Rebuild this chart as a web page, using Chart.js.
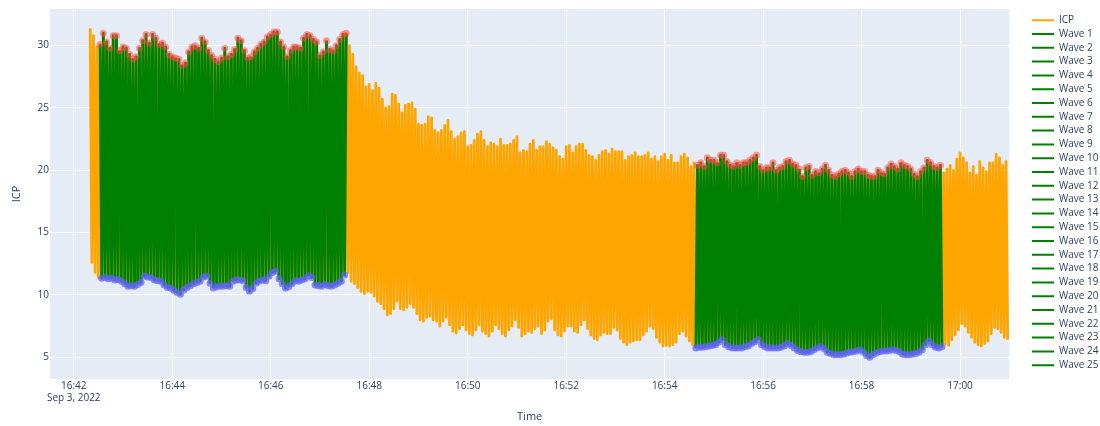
<!DOCTYPE html>
<html lang="en">
  <head>
    <meta charset="UTF-8" />
    <title>ICP</title>
    <script src="https://cdn.jsdelivr.net/npm/chart.js"></script>
    <style>
      html,
      body {
        margin: 0;
        padding: 0;
        background: #fff;
      }
    </style>
  </head>
  <body>
    <canvas id="chart-area" width="1100" height="426"></canvas>

    <script>
      // recording of Sep 3, 2022 - one beat every 4 s from 16:42:20
      const recordDate = "Sep 3, 2022";
      const firstBeat = "16:42:20";
      const beatSeconds = 4;

      // peak value of each beat
      const icpPeaks = [
        31.4, 30.8, 29.9, 30.1, 31.0, 30.3, 29.8, 30.8, 30.8, 29.6,
        29.9, 29.8, 29.3, 28.9, 29.1, 29.8, 30.4, 30.9, 30.2, 30.9,
        30.6, 30.1, 30.2, 29.9, 29.3, 29.1, 29.0, 28.9, 28.4, 28.6,
        29.5, 29.9, 30.0, 29.8, 30.6, 30.3, 29.6, 29.2, 28.9, 28.7,
        29.0, 29.8, 29.1, 29.3, 29.7, 30.6, 30.4, 29.6, 29.0, 29.1,
        29.5, 29.8, 30.1, 30.3, 30.7, 30.9, 31.1, 31.1, 30.3, 29.9,
        29.1, 29.6, 29.9, 29.9, 29.8, 30.6, 30.9, 30.8, 30.5, 30.3,
        29.2, 29.5, 30.4, 29.7, 29.6, 30.0, 30.5, 30.9, 31.0, 30.0,
        29.3, 28.3, 27.8, 27.6, 26.7, 26.9, 26.4, 27.0, 26.6, 25.7,
        25.0, 25.1, 26.1, 26.0, 25.3, 24.6, 25.2, 25.3, 25.4, 24.9,
        23.7, 23.6, 23.7, 24.3, 24.2, 23.2, 23.0, 23.2, 23.6, 24.0,
        23.1, 22.5, 22.7, 23.0, 23.1, 21.9, 22.0, 22.4, 22.9, 23.1,
        22.4, 21.9, 22.2, 22.1, 21.9, 22.5, 22.0, 22.0, 22.1, 22.4,
        22.7, 21.4, 21.6, 21.5, 22.1, 22.4, 21.6, 21.9, 21.9, 22.3,
        22.1, 21.8, 21.6, 21.1, 20.9, 21.9, 22.0, 21.4, 21.9, 22.1,
        22.1, 21.6, 21.2, 21.1, 20.8, 21.2, 21.5, 21.6, 21.3, 21.7,
        21.5, 21.5, 21.5, 20.8, 21.1, 21.2, 21.4, 21.1, 21.1, 21.2,
        21.4, 20.9, 21.1, 20.7, 21.1, 21.3, 20.8, 21.2, 20.6, 20.6,
        21.1, 21.3, 21.0, 20.3, 20.6, 20.4, 20.6, 20.3, 21.0, 20.8,
        20.8, 20.6, 21.2, 21.2, 20.7, 20.4, 20.3, 20.6, 20.4, 20.6,
        20.6, 20.8, 21.0, 21.2, 20.3, 20.0, 20.2, 20.2, 20.6, 20.0,
        20.2, 20.3, 20.7, 20.8, 20.5, 20.4, 20.1, 19.5, 20.2, 20.3,
        19.6, 19.9, 19.8, 20.1, 20.4, 20.0, 19.6, 19.5, 19.7, 19.9,
        20.0, 19.8, 19.5, 19.9, 20.1, 19.9, 19.9, 19.6, 19.5, 19.5,
        20.0, 19.8, 19.7, 20.2, 20.5, 20.3, 20.1, 20.6, 20.4, 20.3,
        20.1, 19.7, 19.5, 19.9, 20.2, 20.8, 20.6, 20.3, 20.2, 20.4,
        19.8, 20.1, 20.4, 20.0, 20.9, 21.4, 21.0, 20.6, 19.8, 20.3,
        19.6, 20.7, 20.2, 19.9, 20.6, 20.6, 21.3, 21.0, 20.4, 20.7,
      ];

      // trough value of each beat, half a beat after its peak
      const icpTroughs = [
        12.6, 11.8, 11.4, 11.35, 11.4, 11.3, 11.35, 11.2, 11.25, 11.1,
        10.9, 10.7, 10.75, 10.7, 10.85, 11.0, 11.5, 11.45, 11.4, 11.2,
        11.15, 11.1, 10.8, 10.6, 10.55, 10.35, 10.2, 10.05, 10.4, 10.6,
        10.75, 10.9, 11.0, 11.1, 11.45, 11.5, 10.95, 10.55, 10.65, 10.7,
        10.7, 10.75, 10.7, 11.1, 11.2, 11.2, 11.15, 10.6, 10.3, 10.5,
        10.95, 11.1, 11.2, 11.15, 11.5, 11.8, 11.9, 11.3, 10.9, 10.55,
        10.65, 10.9, 11.15, 11.1, 11.2, 11.3, 11.55, 11.4, 10.8, 10.75,
        10.7, 10.85, 10.75, 10.7, 10.8, 10.95, 11.1, 11.6, 11.8, 11.1,
        10.9, 10.6, 10.3, 10.1, 10.3, 10.2, 9.9, 9.5, 9.3, 8.9,
        8.4, 8.5, 8.9, 9.5, 8.9, 8.8, 9.0, 9.3, 9.0, 8.5,
        8.0, 7.9, 8.2, 8.3, 8.0, 7.9, 7.5, 7.9, 8.2, 7.6,
        7.1, 6.95, 7.3, 7.6, 7.2, 6.9, 6.8, 7.2, 7.6, 7.1,
        6.9, 6.7, 7.1, 7.6, 7.3, 6.9, 6.7, 7.2, 7.5, 8.0,
        7.4, 6.7, 6.9, 7.1, 7.0, 7.3, 7.5, 6.9, 7.2, 7.9,
        8.1, 7.2, 6.8, 6.7, 7.1, 7.5, 7.5, 7.1, 7.0, 7.6,
        8.0, 7.3, 6.8, 6.5, 6.4, 6.8, 7.0, 6.9, 6.9, 7.4,
        7.2, 6.5, 6.2, 6.0, 6.2, 6.3, 6.4, 6.4, 6.8, 7.1,
        7.5, 7.3, 6.6, 6.2, 5.9, 5.95, 5.9, 6.0, 6.2, 6.9,
        7.1, 6.7, 6.3, 6.0, 5.75, 5.8, 5.8, 5.85, 5.9, 5.95,
        6.0, 6.2, 6.4, 6.0, 5.85, 5.75, 5.75, 5.75, 5.75, 5.85,
        5.9, 6.1, 6.25, 6.4, 6.0, 5.85, 5.75, 5.75, 5.75, 5.75,
        5.8, 5.9, 6.1, 5.95, 5.75, 5.55, 5.45, 5.4, 5.4, 5.45,
        5.6, 5.75, 5.85, 5.7, 5.4, 5.3, 5.2, 5.2, 5.2, 5.25,
        5.35, 5.4, 5.45, 5.5, 5.6, 5.4, 5.15, 5.0, 5.2, 5.35,
        5.45, 5.5, 5.5, 5.55, 5.6, 5.55, 5.45, 5.25, 5.2, 5.2,
        5.25, 5.3, 5.4, 5.6, 6.0, 6.3, 6.0, 5.8, 5.75, 5.85,
        6.1, 5.95, 6.4, 6.8, 7.2, 7.7, 7.5, 7.0, 6.6, 6.2,
        6.0, 5.9, 6.1, 6.3, 6.9, 7.4, 7.3, 7.0, 6.6, 6.4,
      ];

      // stretches where single waves were marked (first 13 waves, then 12)
      const waveSegments = [
        ["16:42:32", "16:47:32"],
        ["16:54:38", "16:59:38"],
      ];
      const wavesPerSegment = [13, 12];

      const xTicks = ["16:42", "16:44", "16:46", "16:48", "16:50", "16:52", "16:54", "16:56", "16:58", "17:00"];
      const yTicks = [5, 10, 15, 20, 25, 30];

      const toSec = (s) => {
        const [h, m, sec] = s.split(":").map(Number);
        return h * 3600 + m * 60 + (sec || 0);
      };
      const hhmm = (v) => {
        const h = Math.floor(v / 3600);
        const m = Math.floor((v % 3600) / 60);
        return h + ":" + String(m).padStart(2, "0");
      };

      const t0 = toSec(firstBeat);
      const icpPoints = [];
      const peakPoints = [];
      const troughPoints = [];
      icpPeaks.forEach((p, i) => {
        const peak = { x: t0 + i * beatSeconds, y: p };
        const trough = { x: t0 + i * beatSeconds + beatSeconds / 2, y: icpTroughs[i] };
        icpPoints.push(peak, trough);
        peakPoints.push(peak);
        troughPoints.push(trough);
      });

      const inWave = (p) => waveSegments.some(([a, b]) => p.x >= toSec(a) && p.x <= toSec(b));

      const waves = [];
      waveSegments.forEach(([a, b], s) => {
        const pts = icpPoints.filter((p) => p.x >= toSec(a) && p.x <= toSec(b));
        const n = wavesPerSegment[s];
        for (let j = 0; j < n; j++) {
          const from = Math.round((j * (pts.length - 1)) / n);
          const to = Math.round(((j + 1) * (pts.length - 1)) / n);
          waves.push(pts.slice(from, to + 1));
        }
      });

      const lineW = 2.8;
      const datasets = [
        {
          label: "ICP",
          data: icpPoints,
          borderColor: "#FFA500",
          backgroundColor: "#FFA500",
          borderWidth: lineW,
          borderJoinStyle: "round",
          pointRadius: 0,
          order: 2,
        },
      ];
      waves.forEach((w, k) => {
        datasets.push({
          label: "Wave " + (k + 1),
          data: w,
          borderColor: "#008000",
          backgroundColor: "#008000",
          borderWidth: lineW,
          borderJoinStyle: "round",
          pointRadius: 0,
          order: 1,
        });
      });
      datasets.push({
        label: "peaks",
        data: peakPoints.filter(inWave),
        showLine: false,
        pointRadius: 3.5,
        pointBorderWidth: 0,
        pointBackgroundColor: "rgba(255, 70, 70, 0.5)",
        order: 0,
      });
      datasets.push({
        label: "troughs",
        data: troughPoints.filter(inWave),
        showLine: false,
        pointRadius: 3.5,
        pointBorderWidth: 0,
        pointBackgroundColor: "rgba(95, 100, 250, 0.7)",
        order: 0,
      });

      // plotly-like grey-blue plot area
      const plotBackground = {
        id: "plotBackground",
        beforeDraw(chart) {
          const { ctx, chartArea: a } = chart;
          ctx.save();
          ctx.fillStyle = "#E5ECF6";
          ctx.fillRect(a.left, a.top, a.width, a.height);
          ctx.restore();
        },
      };

      // move the legend to the right margin, where plotly has it
      const legendPlacer = {
        id: "legendPlacer",
        afterLayout(chart) {
          const lg = chart.legend;
          const pad = lg.options.labels.padding;
          lg.left = 1032 - pad;
          lg.right = 1100;
          lg.width = lg.right - lg.left;
          lg.top = 15.2 - pad;
          lg.bottom = 426;
          lg.height = lg.bottom - lg.top;
        },
      };

      Chart.defaults.font.family = '"Open Sans", "Noto Sans", sans-serif';
      Chart.defaults.color = "#2a3f5f";

      const ctx = document.getElementById("chart-area").getContext("2d");
      new Chart(ctx, {
        type: "line",
        data: { datasets: datasets },
        plugins: [plotBackground, legendPlacer],
        options: {
          responsive: false,
          animation: false,
          events: [],
          devicePixelRatio: 1,
          layout: { padding: { top: 9, right: 90.7, bottom: 0, left: 0 } },
          plugins: {
            tooltip: { enabled: false },
            legend: {
              position: "chartArea",
              align: "start",
              labels: {
                usePointStyle: true,
                pointStyle: "line",
                pointStyleWidth: 22,
                padding: 3.8,
                color: "#2a3f5f",
                font: { size: 10 },
                filter: (item) => item.datasetIndex <= 25,
                sort: (a, b) => a.datasetIndex - b.datasetIndex,
                generateLabels(chart) {
                  return Chart.defaults.plugins.legend.labels
                    .generateLabels(chart)
                    .map((item) => Object.assign(item, { lineWidth: 2 }));
                },
              },
            },
          },
          scales: {
            x: {
              type: "linear",
              min: 60091,
              max: 61260,
              afterFit(scale) {
                scale.height = 47;
              },
              afterBuildTicks(scale) {
                scale.ticks = xTicks.map((s) => ({ value: toSec(s) }));
              },
              ticks: {
                padding: 1,
                maxRotation: 0,
                autoSkip: false,
                font: { size: 10 },
                color: "#2a3f5f",
                callback: (value, index) => (index === 0 ? [hhmm(value), recordDate] : hhmm(value)),
              },
              grid: { color: "#ffffff", lineWidth: 1, drawTicks: false },
              border: { display: false },
              title: {
                display: true,
                text: "Time",
                color: "#2a3f5f",
                font: { size: 11 },
                padding: { top: 0, bottom: 2.9 },
              },
            },
            y: {
              min: 3.26,
              max: 32.94,
              afterFit(scale) {
                scale.width = 50;
              },
              afterBuildTicks(scale) {
                scale.ticks = yTicks.map((v) => ({ value: v }));
              },
              ticks: {
                padding: 1,
                font: { size: 10 },
                color: "#2a3f5f",
              },
              grid: { color: "#ffffff", lineWidth: 1, drawTicks: false },
              border: { display: false },
              title: {
                display: true,
                text: "ICP",
                color: "#2a3f5f",
                font: { size: 11 },
                padding: { top: 10.4, bottom: 0 },
              },
            },
          },
        },
      });
    </script>
  </body>
</html>
